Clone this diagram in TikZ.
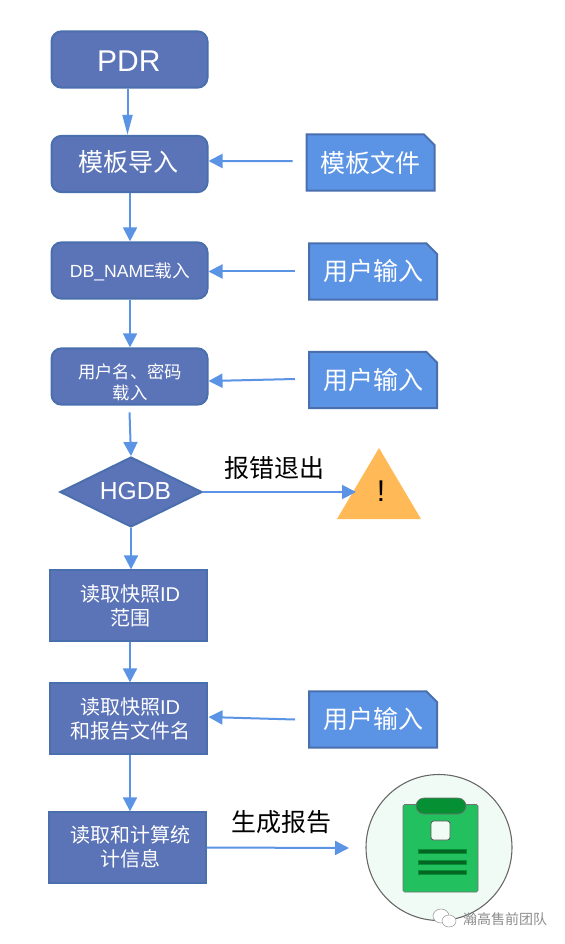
\documentclass[tikz,border=0pt]{standalone}
\usepackage{fontspec}
\setmainfont{Liberation Sans}
\newfontfamily\cjk{Noto Sans CJK SC}
\usetikzlibrary{arrows.meta,shapes.geometric,shapes.misc}
\definecolor{boxfill}{HTML}{5B73B7}
\definecolor{boxline}{HTML}{4A6FAD}
\definecolor{docfill}{HTML}{5B93E5}
\definecolor{warnfill}{HTML}{FFB957}
\definecolor{clipfill}{HTML}{22C05F}
\definecolor{clipdark}{HTML}{059033}
\definecolor{circfill}{HTML}{F0FBF5}
\tikzset{
  x=0.75pt,y=-0.75pt,
  flowbase/.style={draw=boxline,fill=boxfill,line width=1.5pt,inner sep=0pt},
  roundbox/.style={flowbase,rectangle,rounded corners=7.5pt,minimum width=117pt,minimum height=42.25pt},
  squarebox/.style={flowbase,rectangle,minimum width=117.75pt,minimum height=52.75pt},
  boxtext/.style={inner sep=0pt,text=white,align=center},
  doc/.style={draw=boxline,fill=docfill,line width=1.5pt,text=white,align=center,inner sep=0pt,font=\cjk\fontsize{18.75pt}{22pt}\selectfont,
    chamfered rectangle,chamfered rectangle corners=north east,chamfered rectangle xsep=4pt,chamfered rectangle ysep=4pt,chamfered rectangle angle=45,minimum width=96pt,minimum height=42.25pt},
  conn/.style={draw=docfill,line width=1.5pt,-{Triangle[length=10.5pt,width=10.5pt]}},
  plain/.style={inner sep=0pt,text=black,font=\cjk\fontsize{18.75pt}{22pt}\selectfont},
}
\begin{document}
\begin{tikzpicture}
\useasboundingbox (0,0) rectangle (564,944);
% main column
\node[roundbox] (pdr) at (129.5,59.5) {};
\node[boxtext,font=\fontsize{22.5pt}{26pt}\selectfont] (pdrt) at (128.8,61.5) {PDR};
\node[roundbox] (tpl) at (129.5,164) {};
\node[boxtext,font=\cjk\fontsize{18.75pt}{22pt}\selectfont] (tplt) at (128.5,162) {模板导入};
\node[roundbox] (dbn) at (129.5,270.5) {};
\node[boxtext,font=\cjk\fontsize{13.2pt}{16pt}\selectfont] (dbnt) at (130,271.5) {{\rmfamily DB\_NAME}载入};
\node[roundbox] (usr) at (129.5,376.5) {};
\node[boxtext,font=\cjk\fontsize{13pt}{15.75pt}\selectfont] (usrt) at (130,382) {用户名、密码\\载入};
\node[flowbase,diamond,aspect=2.06,minimum width=106.5pt,minimum height=52.5pt] (hg) at (131,492) {};
\node[boxtext,font=\fontsize{18.5pt}{22pt}\selectfont] (hgt) at (135.5,491.5) {HGDB};
\node[squarebox] (r1) at (128,605.5) {};
\node[boxtext,font=\cjk\fontsize{15pt}{18pt}\selectfont] (r1t) at (130,606) {读取快照{\rmfamily ID}\\范围};
\node[squarebox] (r2) at (128,718.5) {};
\node[boxtext,font=\cjk\fontsize{15pt}{18pt}\selectfont] (r2t) at (130,718.5) {读取快照{\rmfamily ID}\\和报告文件名};
\node[squarebox] (r3) at (127,847.5) {};
\node[boxtext,font=\cjk\fontsize{15pt}{18pt}\selectfont] (r3t) at (130,847) {读取和计算统\\计信息};
% right docs
\node[doc] (d1) at (370.5,162.5) {模板文件};
\node[doc] (d2) at (373,271.5) {用户输入};
\node[doc] (d3) at (373,380) {用户输入};
\node[doc] (d4) at (373,719.5) {用户输入};
% warning triangle
\fill[warnfill] (379,448) -- (421,519) -- (337,519) -- cycle;
\node[inner sep=0pt,font=\fontsize{22.5pt}{26pt}\selectfont] (warn) at (381,491.5) {!};
\coordinate (warnin) at (356,492);
% report icon
\node[circle,draw=black!60,fill=circfill,line width=0.8pt,minimum size=109.5pt,inner sep=0pt] (rep) at (439,847.5) {};
\fill[clipfill,draw=black!55,line width=0.5pt,rounded corners=1.2pt] (403,804.5) rectangle (478,892);
\fill[clipdark,draw=black!55,line width=0.5pt,rounded corners=6pt] (416,798) rectangle (466,814);
\fill[circfill,draw=black!65,line width=0.6pt,rounded corners=2pt] (431,821) rectangle (450,840);
\fill[clipdark!70!black,draw=clipdark,line width=0.3pt] (418,849) rectangle (466,853);
\fill[clipdark!70!black,draw=clipdark,line width=0.3pt] (418,860) rectangle (466,864);
\fill[clipdark!70!black,draw=clipdark,line width=0.3pt] (418,870.5) rectangle (466,874.5);
\coordinate (repin) at (349,848);
% labels
\node[plain] (err) at (274,468) {报错退出};
\node[plain] (gen) at (281,822) {生成报告};
% connectors
\draw[conn,-{Triangle[length=15pt,width=7.5pt]}] ([xshift=-1.5pt]pdr.south) -- ([xshift=-1.5pt]tpl.north);
\draw[conn] ([xshift=0.4pt]tpl.south) -- ([xshift=0.4pt]dbn.north);
\draw[conn] ([xshift=0.4pt]dbn.south) -- ([xshift=0.4pt]usr.north);
\draw[conn] ([yshift=-5pt]usr.south) -- (hg.north);
\draw[conn] (hg.south) -- (hg.south |- r1.north);
\draw[conn] ([xshift=1.5pt]r1.south) -- ([xshift=1.5pt]r2.north);
\draw[conn] ([xshift=1.5pt]r2.south) -- ([xshift=2.25pt]r3.north);
\draw[conn] ([xshift=-9.75pt,yshift=1.1pt]d1.west) -- ([yshift=2.25pt]tpl.east);
\draw[conn] ([xshift=-9.75pt]d2.west) -- (dbn.east |- d2.west);
\draw[conn] ([xshift=-9.75pt,yshift=0.75pt]d3.west) -- ([yshift=-3.4pt]usr.east);
\draw[conn] ([xshift=-9.75pt]d4.west) -- ([xshift=0.75pt,yshift=1.1pt]r2.east);
\draw[conn] (hg.east) -- (warnin);
\draw[conn] (r3.east) -- (repin);
% watermark
\fill[white,draw=black!40,line width=0.4pt] (441,916) ellipse (8 and 7);
\fill[white,draw=black!40,line width=0.4pt] (449,921) ellipse (7 and 6);
\node[inner sep=0pt,text=black!45,font=\cjk\fontsize{10.5pt}{12pt}\selectfont] (wm) at (505,919) {瀚高售前团队};
\end{tikzpicture}
\end{document}
